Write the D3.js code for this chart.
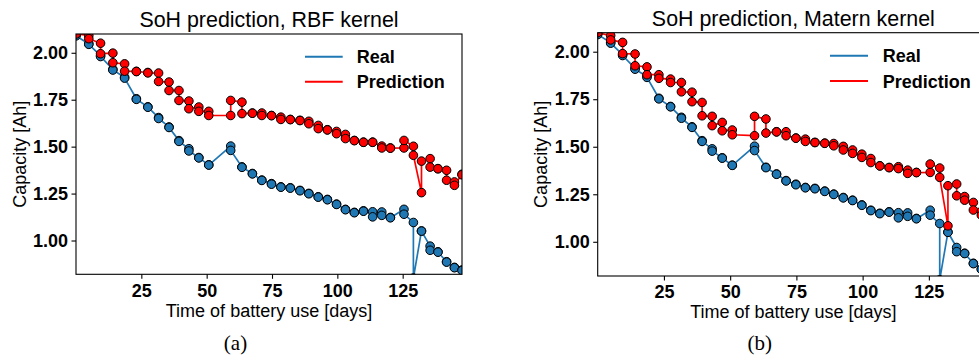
<!DOCTYPE html>
<html><head><meta charset="utf-8">
<script src="https://cdn.jsdelivr.net/npm/d3@7"></script>
<style>body{margin:0;background:#fff}svg{display:block}</style>
</head><body>
<svg id="c" width="979" height="360"></svg>
<script>
// ---- data (each day has two measurements) ----
const days = [0, 4.9, 9.4, 14.1, 18.6, 23.1, 27.5, 31.6, 35.6, 39.4, 43.2, 47.0, 50.8, 59.2, 63.5, 67.5, 71.1, 74.8, 78.4, 82.0, 85.7, 89.1, 92.7, 96.2, 99.7, 103.1, 106.5, 110.0, 113.5, 117.0, 120.3, 125.5, 129.1, 132.2, 135.5, 138.5, 141.8, 144.8, 147.7];
const real = [[2.095,2.09],[2.048,2.045],[1.985,1.980],[1.912,1.908],[1.870,1.865],[1.755,1.752],[1.712,1.710],[1.655,1.650],[1.605,1.602],[1.532,1.528],[1.489,1.477],[1.442,1.440],[1.403,1.402],[1.503,1.480],[1.392,1.390],[1.357,1.355],[1.322,1.320],[1.303,1.300],[1.286,1.284],[1.281,1.279],[1.267,1.265],[1.251,1.249],[1.233,1.231],[1.219,1.217],[1.194,1.192],[1.166,1.164],[1.150,1.148],[1.158,1.156],[1.153,1.126],[1.152,1.134],[1.123,1.121],[1.166,1.140],[1.096,0.80],[1.051,1.050],[0.970,0.948],[0.940,0.938],[0.887,0.885],[0.857,0.855],[0.843,0.840]];
const predRBF = [[2.12,2.10],[2.092,2.075],[2.051,1.995],[1.998,1.947],[1.941,1.902],[1.901,1.900],[1.895,1.893],[1.892,1.847],[1.844,1.799],[1.799,1.746],[1.743,1.702],[1.711,1.688],[1.688,1.666],[1.666,1.746],[1.737,1.676],[1.679,1.678],[1.679,1.666],[1.666,1.665],[1.657,1.645],[1.645,1.644],[1.640,1.639],[1.635,1.622],[1.613,1.596],[1.590,1.589],[1.581,1.569],[1.565,1.543],[1.533,1.532],[1.524,1.523],[1.524,1.523],[1.503,1.493],[1.493,1.492],[1.493,1.533],[1.502,1.454],[1.255,1.423],[1.436,1.391],[1.383,1.382],[1.374,1.321],[1.312,1.294],[1.353,1.35]];
const predMatern = [[2.105,2.10],[2.085,2.062],[2.049,1.990],[1.988,1.926],[1.920,1.879],[1.879,1.860],[1.856,1.838],[1.838,1.789],[1.787,1.737],[1.733,1.663],[1.660,1.611],[1.628,1.584],[1.588,1.563],[1.558,1.660],[1.646,1.572],[1.579,1.578],[1.579,1.558],[1.546,1.545],[1.540,1.528],[1.523,1.522],[1.519,1.518],[1.517,1.505],[1.502,1.483],[1.483,1.465],[1.461,1.444],[1.438,1.417],[1.400,1.399],[1.391,1.390],[1.395,1.385],[1.377,1.360],[1.365,1.364],[1.365,1.409],[1.388,1.339],[1.084,1.295],[1.304,1.242],[1.238,1.219],[1.207,1.167],[1.16,1.14],[1.15,1.13]];
const xTicks = [25, 50, 75, 100, 125];
const yTicks = [1.00, 1.25, 1.50, 1.75, 2.00];
const titles = ["SoH prediction, RBF kernel", "SoH prediction, Matern kernel"];
const captions = ["(a)", "(b)"];
const seriesNames = ["Real", "Prediction"];
const xLabel = "Time of battery use [days]";
const yLabel = "Capacity [Ah]";
const xDomain = [0, 147.7];
const yDomain = [0.82, 2.1];
const colors = {real: "#1f77b4", pred: "#ff0000"};

function toPoints(pairs) {
  const out = [];
  pairs.forEach((p, i) => { out.push([days[i], p[0]]); out.push([days[i], p[1]]); });
  return out;
}

const SANS = "Liberation Sans, Arial, sans-serif";
const svg = d3.select("#c");
const panels = [
  {l: 76, t: 34, r: 462, b: 274.3, pred: predRBF, titleY: 27.3, xlabY: 316.5, ylabX: 26, capX: 235.5,
   legLine: [305, 342.7], legY: [56.7, 81.7], legTextX: 356.7},
  {l: 597.7, t: 32.7, r: 989, b: 276, pred: predMatern, titleY: 26, xlabY: 318.3, ylabX: 546.7, capX: 759.7,
   legLine: [830, 868], legY: [55.7, 81], legTextX: 882.7}
];

panels.forEach((P, k) => {
  const x = d3.scaleLinear().domain(xDomain).range([P.l, P.r]);
  const y = d3.scaleLinear().domain(yDomain).range([P.b, P.t]);
  const g = svg.append("g");
  const clipId = "clip" + k;
  svg.append("clipPath").attr("id", clipId).append("rect")
    .attr("x", P.l).attr("y", P.t).attr("width", P.r - P.l).attr("height", P.b - P.t);
  const plot = g.append("g").attr("clip-path", `url(#${clipId})`);
  const line = d3.line().x(d => x(d[0])).y(d => y(d[1]));

  const series = [
    {pts: toPoints(real), c: colors.real},
    {pts: toPoints(P.pred), c: colors.pred}
  ];
  series.forEach(s => {
    plot.append("path").attr("d", line(s.pts)).attr("fill", "none")
      .attr("stroke", s.c).attr("stroke-width", 1.7).attr("stroke-linejoin", "round");
  });
  series.forEach(s => {
    plot.selectAll(null).data(s.pts).join("circle")
      .attr("cx", d => x(d[0])).attr("cy", d => y(d[1])).attr("r", 4.3)
      .attr("fill", s.c).attr("stroke", "#000").attr("stroke-width", 1);
  });

  // axes
  const xa = g.append("g").attr("transform", `translate(0,${P.b})`)
    .call(d3.axisBottom(x).tickValues(xTicks).tickSize(4.5).tickPadding(5).tickFormat(d3.format("d")));
  const ya = g.append("g").attr("transform", `translate(${P.l},0)`)
    .call(d3.axisLeft(y).tickValues(yTicks).tickSize(4.5).tickPadding(3.5).tickFormat(d3.format(".2f")));
  [xa, ya].forEach(a => {
    a.select(".domain").remove();
    a.selectAll("line").attr("stroke", "#000").attr("stroke-width", 1.1);
    a.selectAll("text").attr("font-family", SANS).attr("font-weight", "bold")
      .attr("font-size", 18).attr("fill", "#000");
  });
  // frame
  g.append("rect").attr("x", P.l).attr("y", P.t).attr("width", P.r - P.l).attr("height", P.b - P.t)
    .attr("fill", "none").attr("stroke", "#000").attr("stroke-width", 1.1);

  // title & labels
  g.append("text").attr("x", (P.l + P.r) / 2).attr("y", P.titleY).attr("text-anchor", "middle")
    .attr("font-family", SANS).attr("font-size", 21.4).text(titles[k]);
  g.append("text").attr("x", (P.l + P.r) / 2).attr("y", P.xlabY).attr("text-anchor", "middle")
    .attr("font-family", SANS).attr("font-size", 18).text(xLabel);
  g.append("text").attr("transform", `translate(${P.ylabX},${(P.t + P.b) / 2}) rotate(-90)`)
    .attr("text-anchor", "middle").attr("font-family", SANS).attr("font-size", 18).text(yLabel);
  g.append("text").attr("x", P.capX).attr("y", 350).attr("text-anchor", "middle")
    .attr("font-family", "Liberation Serif").attr("font-size", 21).text(captions[k]);

  // legend
  const legColors = [colors.real, colors.pred];
  seriesNames.forEach((n, i) => {
    g.append("line").attr("x1", P.legLine[0]).attr("x2", P.legLine[1])
      .attr("y1", P.legY[i]).attr("y2", P.legY[i]).attr("stroke", legColors[i]).attr("stroke-width", 2);
    g.append("text").attr("x", P.legTextX).attr("y", P.legY[i] + 6.6)
      .attr("font-family", SANS).attr("font-weight", "bold").attr("font-size", 18).text(n);
  });
});
</script>
</body></html>
